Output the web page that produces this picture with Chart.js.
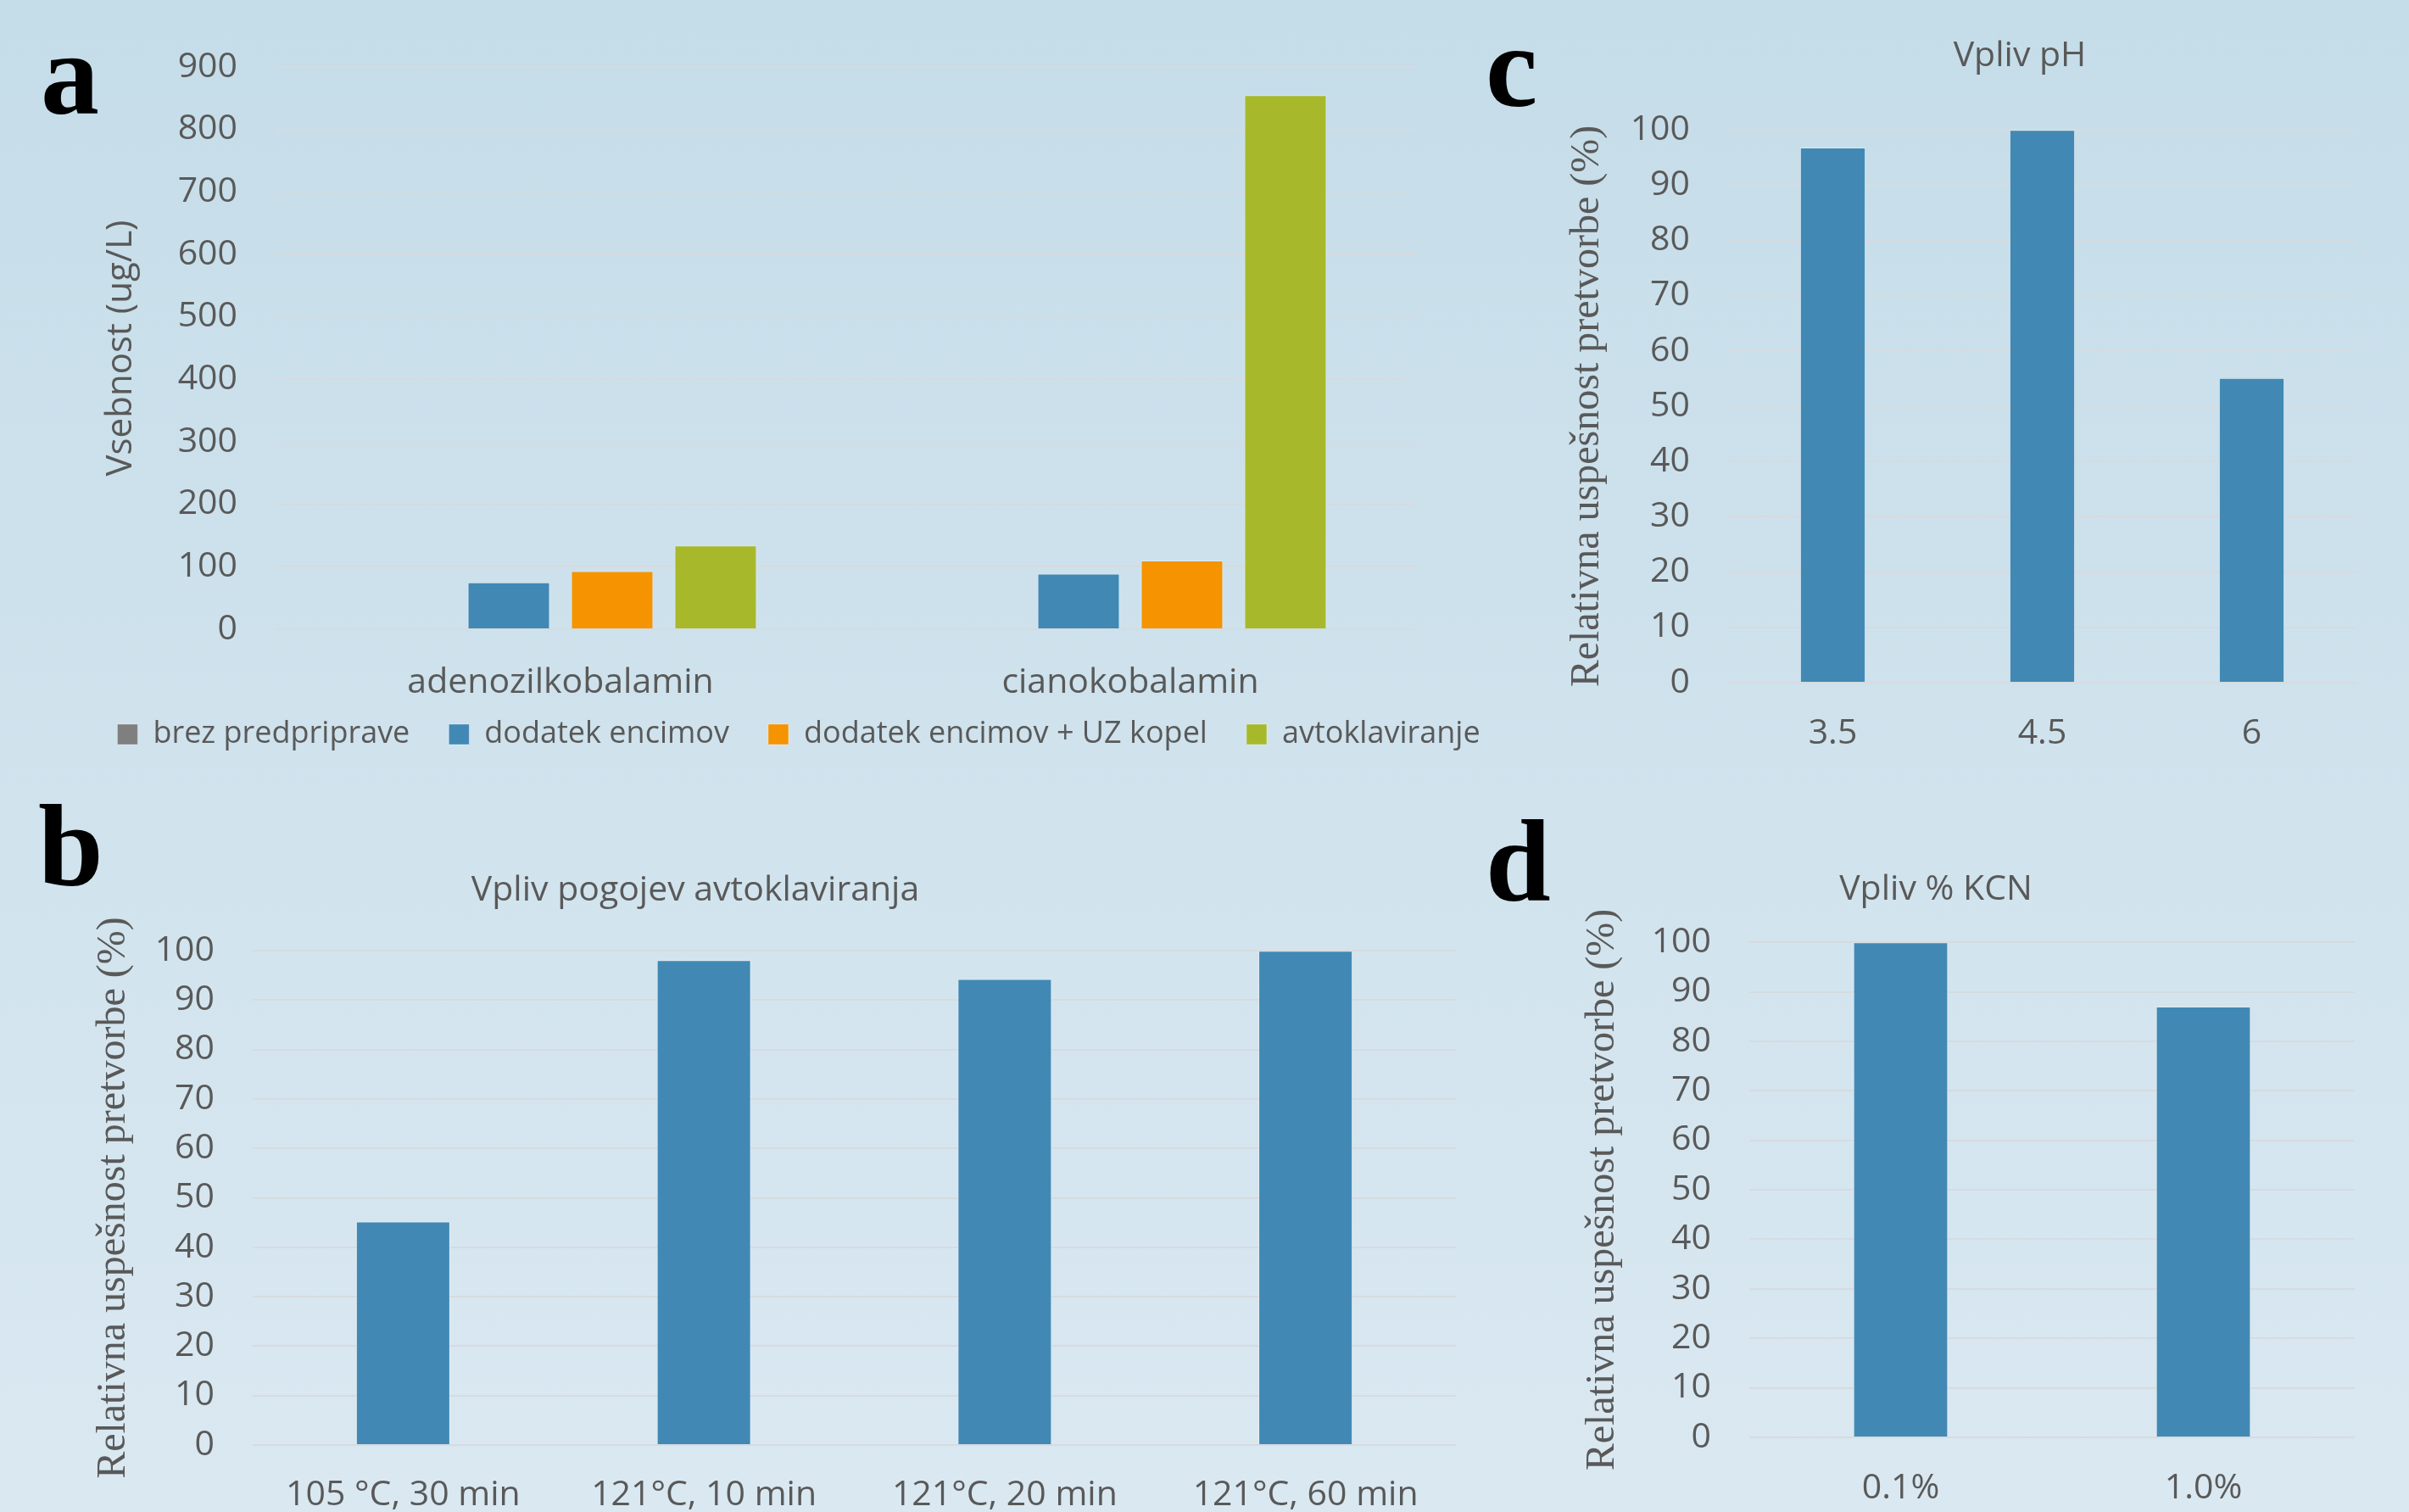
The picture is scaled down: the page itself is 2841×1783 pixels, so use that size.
<!DOCTYPE html>
<html lang="sl">
<head>
    <meta charset="UTF-8">
    <title>Vsebnost kobalaminov</title>
    <script src="https://cdn.jsdelivr.net/npm/chart.js"></script>
    <style>
        html, body {
            margin: 0;
            padding: 0;
            overflow: hidden;
        }
        .page {
            position: relative;
            width: 2841px;
            height: 1783px;
            overflow: hidden;
            background: linear-gradient(#c5dde9, #dae8f1);
        }
        canvas {
            position: absolute;
        }
        .letter {
            position: absolute;
            font-family: 'Liberation Serif', serif;
            font-weight: bold;
            font-size: 138px;
            line-height: 1;
            color: #000;
        }
    </style>
</head>
<body>
<div class="page">
    <div class="letter" style="left:48px; top:19px;">a</div>
    <div class="letter" style="left:45px; top:929px;">b</div>
    <div class="letter" style="left:1752px; top:10px;">c</div>
    <div class="letter" style="left:1752px; top:947px;">d</div>

    <canvas id="chartA" width="1884" height="894" style="left:0px; top:0px;"></canvas>
    <canvas id="chartB" width="1794" height="884" style="left:-77px; top:1016px;"></canvas>
    <canvas id="chartC" width="1084" height="928" style="left:1840px; top:32px;"></canvas>
    <canvas id="chartD" width="988" height="885" style="left:1789px; top:1015px;"></canvas>
</div>

<script>
    // a: vsebnost (ug/L)
    const vitaminLabels = ['adenozilkobalamin', 'cianokobalamin'];
    const brezPredpriprave = [0, 0];
    const dodatekEncimov = [75, 89];
    const encimiUzKopel = [93, 110];
    const avtoklaviranje = [134, 855];

    // b: vpliv pogojev avtoklaviranja (%)
    const autoclaveLabels = ['105 °C, 30 min', '121°C, 10 min', '121°C, 20 min', '121°C, 60 min'];
    const autoclaveValues = [45.2, 98.1, 94.3, 100];

    // c: vpliv pH (%)
    const phLabels = ['3.5', '4.5', '6'];
    const phValues = [96.8, 100, 55.1];

    // d: vpliv % KCN (%)
    const kcnLabels = ['0.1%', '1.0%'];
    const kcnValues = [100, 87];

    const textColor = '#595959';
    const gridColor = 'rgba(214, 218, 222, 0.95)';
    const blue = '#4189b4';
    const barEdge = 'rgba(255, 255, 255, 0.35)';
    const yTitleSerif = 'Relativna uspešnost pretvorbe (%)';

    Chart.defaults.font.family = "'Open Sans', sans-serif";
    Chart.defaults.color = textColor;
    Chart.defaults.animation = false;

    // empty axis on the right, only to leave room after the plot
    function gapAxis(w) {
        return {
            type: 'linear',
            position: 'right',
            grid: { display: false, drawTicks: false },
            border: { display: false },
            ticks: { display: false },
            afterFit: s => { s.width = w; }
        };
    }

    function xAxis(h, pad) {
        return {
            grid: { display: false, drawTicks: false },
            border: { display: false },
            ticks: { padding: pad, font: { size: 41 }, maxRotation: 0, autoSkip: false },
            afterFit: s => { s.height = h; }
        };
    }

    function yAxis(w, max, step, title, titleFont, titlePad) {
        return {
            min: 0,
            max: max,
            grid: { color: gridColor, lineWidth: 2, drawTicks: false },
            border: { display: false },
            ticks: { stepSize: step, padding: 45, font: { size: 41 } },
            title: { display: true, text: title, font: titleFont, color: textColor, padding: { top: titlePad, bottom: 0 } },
            afterFit: s => { s.width = w; }
        };
    }

    function titleOpts(text, padBottom) {
        return {
            display: true,
            text: text,
            color: textColor,
            font: { size: 41, weight: 'normal' },
            padding: { top: 10, bottom: padBottom }
        };
    }

    // a -- x labels overlap the legend box, mirrored so they are not clipped
    const xA = xAxis(60, -88);
    xA.ticks.mirror = true;

    new Chart(document.getElementById('chartA'), {
        type: 'bar',
        data: {
            labels: vitaminLabels,
            datasets: [
                { label: 'brez predpriprave', data: brezPredpriprave, backgroundColor: '#7f7f7f' },
                { label: 'dodatek encimov', data: dodatekEncimov, backgroundColor: blue },
                { label: 'dodatek encimov + UZ kopel', data: encimiUzKopel, backgroundColor: '#f59300' },
                { label: 'avtoklaviranje', data: avtoklaviranje, backgroundColor: '#a7b92a' }
            ]
        },
        options: {
            responsive: false,
            devicePixelRatio: 1,
            categoryPercentage: 0.726,
            barPercentage: 0.795,
            borderWidth: 1,
            borderColor: barEdge,
            layout: { padding: { top: 79, left: 0, right: 0, bottom: 0 } },
            plugins: {
                legend: {
                    position: 'bottom',
                    labels: { boxWidth: 24, boxHeight: 24, padding: 46, color: textColor, font: { size: 36 } }
                },
                tooltip: { enabled: false }
            },
            scales: {
                x: xA,
                y: yAxis(325, 900, 100, 'Vsebnost (ug/L)', { size: 42, family: "'Open Sans', sans-serif" }, 118),
                gap: gapAxis(215)
            }
        }
    });

    function singleBar(id, labels, values, title, padBottom, yWidth, titlePad, xHeight, xPad, gap) {
        const scales = {
            x: xAxis(xHeight, xPad),
            y: yAxis(yWidth, 100, 10, yTitleSerif, { size: 48, family: "'Liberation Serif', serif" }, titlePad)
        };
        if (gap) scales.gap = gapAxis(gap);
        return new Chart(document.getElementById(id), {
            type: 'bar',
            data: {
                labels: labels,
                datasets: [{ data: values, backgroundColor: blue, borderWidth: 1, borderColor: barEdge }]
            },
            options: {
                responsive: false,
                devicePixelRatio: 1,
                categoryPercentage: 1,
                barPercentage: 0.313,
                layout: { padding: 0 },
                plugins: {
                    legend: { display: false },
                    title: titleOpts(title, padBottom),
                    tooltip: { enabled: false }
                },
                scales: scales
            }
        });
    }

    singleBar('chartB', autoclaveLabels, autoclaveValues, 'Vpliv pogojev avtoklaviranja', 46, 375, 183, 196, 35, 0);
    singleBar('chartC', phLabels, phValues, 'Vpliv pH', 62, 198, 4, 155, 36, 145);
    singleBar('chartD', kcnLabels, kcnValues, 'Vpliv % KCN', 37, 274, 73, 205, 36, 0);
</script>
</body>
</html>
